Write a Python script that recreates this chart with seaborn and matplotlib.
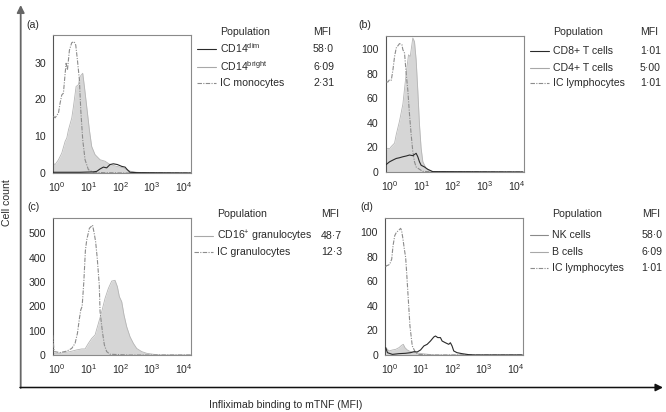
import seaborn as sns
import matplotlib.pyplot as plt
import matplotlib.ticker as ticker
from matplotlib.lines import Line2D
from matplotlib.patches import FancyArrowPatch

# ---- panel (a): monocytes ----
a_ic_x = [0.77, 0.87, 1.11, 1.25, 1.41, 1.59, 1.80, 1.93, 2.13, 2.46, 2.91, 3.45, 3.89, 4.40,
          5.08, 5.60, 6.47, 7.66, 9.76, 14.0, 29.0, 201, 16800]
a_ic_y = [15.4, 15.0, 16.3, 19.0, 21.2, 21.7, 27.0, 29.8, 28.0, 33.4, 35.4, 35.7, 34.8, 30.7,
          25.3, 17.2, 9.0, 3.6, 0.9, 0.2, 0.1, 0.0, 0.0]
a_bright_x = [0.73, 0.87, 1.11, 1.41, 1.80, 2.03, 2.29, 2.91, 3.29, 3.99, 4.73, 5.33, 6.47, 7.30,
              8.65, 10.5, 12.4, 15.8, 22.8, 32.7, 47.0, 76.3, 124, 201, 326, 857, 16800]
a_bright_y = [2.7, 2.3, 3.6, 5.4, 8.6, 9.5, 11.7, 14.9, 18.0, 23.5, 24.0, 26.2, 27.1, 23.5,
              18.0, 11.7, 7.2, 5.0, 3.6, 3.2, 2.3, 1.8, 1.4, 0.5, 0.2, 0.0, 0.0]
a_dim_x = [0.73, 5.33, 14.0, 17.9, 22.8, 29.0, 36.9, 47.0, 59.9, 80.1, 110, 140, 165, 201, 326, 16800]
a_dim_y = [0.2, 0.2, 0.3, 0.45, 1.1, 1.6, 1.4, 2.3, 2.5, 2.3, 1.8, 1.6, 0.9, 0.2, 0.1, 0.0]

# ---- panel (b): T cells ----
b_ic_x = [0.77, 0.87, 0.98, 1.11, 1.25, 1.41, 1.59, 2.02, 2.40, 2.58, 2.91, 3.28, 3.70, 4.17,
          4.71, 5.31, 6.00, 6.76, 8.61, 11.0, 28.8, 16000]
b_ic_y = [73.2, 73.2, 75.1, 74.6, 82.9, 93.9, 100.8, 104.4, 103.6, 99.4, 96.7, 80.1, 66.3, 47.0,
          30.4, 16.6, 8.3, 4.1, 2.2, 0.5, 0.0, 0.0]
b_cd4_x = [0.77, 0.87, 0.98, 1.11, 1.41, 1.59, 2.02, 2.58, 3.28, 3.88, 4.40, 4.71, 5.31, 6.00,
           6.76, 7.63, 8.61, 9.71, 11.0, 14.0, 20.0, 28.8, 16000]
b_cd4_y = [18.0, 19.3, 18.8, 20.7, 23.5, 30.4, 41.4, 55.2, 80.1, 95.3, 93.9, 99.4, 109, 106,
           91.2, 66.3, 38.7, 19.3, 8.3, 2.8, 0.6, 0.0, 0.0]
b_cd8_x = [0.77, 0.98, 1.25, 1.59, 2.02, 2.58, 3.28, 4.17, 5.31, 6.76, 7.63, 8.61, 9.71, 12.4,
           15.7, 22.6, 16000]
b_cd8_y = [6.1, 8.3, 9.7, 11.0, 11.6, 12.4, 13.0, 13.8, 13.3, 15.2, 12.4, 8.3, 5.5, 4.1,
           2.2, 0.3, 0.0]

# ---- panel (c): granulocytes ----
c_ic_x = [0.73, 0.81, 1.25, 2.03, 2.91, 3.71, 4.40, 5.08, 5.60, 6.20, 7.00, 7.85, 8.65, 10.5,
          13.2, 14.9, 16.5, 18.6, 21.5, 22.8, 27.0, 31.2, 36.9, 47.0, 201, 16800]
c_ic_y = [82, 14, 10, 16, 27, 48, 89, 150, 185, 200, 300, 430, 473, 521,
          534, 500, 466, 397, 288, 178, 96, 41, 14, 3, 0, 0]
c_cd16_x = [0.73, 1.25, 2.58, 4.19, 6.02, 7.66, 9.76, 12.4, 15.8, 20.2, 25.7, 32.7, 41.7, 53.1,
            67.6, 80.1, 92.5, 110, 130, 158, 201, 256, 326, 468, 673, 1090, 1770, 16800]
c_cd16_y = [7, 7, 14, 21, 25, 25, 48, 68, 82, 130, 178, 233, 274, 304,
            307, 281, 240, 219, 164, 116, 75, 48, 27, 14, 7, 3, 0, 0]

# ---- panel (d): NK and B cells ----
d_ic_x = [0.77, 0.81, 0.93, 1.03, 1.19, 1.31, 1.48, 1.67, 1.93, 2.28, 2.45, 2.70, 2.98, 3.28,
          3.53, 3.98, 4.49, 5.31, 6.76, 8.61, 17.8, 16000]
d_ic_y = [72.0, 72.8, 73.3, 74.1, 78.2, 89.1, 97.3, 100, 101.4, 103.3, 101.4, 94.6, 86.4, 79.6,
          67.3, 45.5, 23.7, 7.4, 1.9, 0.5, 0.0, 0.0]
d_b_x = [0.77, 0.98, 1.25, 1.59, 2.02, 2.45, 2.77, 3.12, 3.70, 4.71, 6.76, 11.0, 17.8, 28.8, 16000]
d_b_y = [6.0, 3.3, 4.1, 4.6, 6.0, 7.9, 8.7, 6.0, 4.1, 2.7, 1.9, 1.1, 0.5, 0.0, 0.0]
d_nk_x = [0.77, 0.87, 1.25, 2.02, 3.28, 4.71, 6.00, 7.63, 9.71, 12.4, 15.7, 20.0, 25.5, 28.8,
          34.1, 41.3, 46.7, 59.4, 75.6, 85.3, 96.2, 109, 138, 198, 322, 521, 16000]
d_nk_y = [6.0, 1.9, 0.5, 1.1, 1.4, 1.9, 2.7, 2.5, 4.1, 7.4, 8.7, 11.4, 14.7, 15.5,
          14.2, 14.2, 11.4, 10.0, 8.7, 10.0, 7.4, 3.3, 1.9, 1.1, 0.3, 0.0, 0.0]

# legend tables
a_names = ["CD14$^{\\mathrm{dim}}$", "CD14$^{\\mathrm{bright}}$", "IC monocytes"]
a_mfi = ["58·0", "6·09", "2·31"]
b_names = ["CD8+ T cells", "CD4+ T cells", "IC lymphocytes"]
b_mfi = ["1·01", "5·00", "1·01"]
c_names = ["CD16$^{+}$ granulocytes", "IC granulocytes"]
c_mfi = ["48·7", "12·3"]
d_names = ["NK cells", "B cells", "IC lymphocytes"]
d_mfi = ["58·0", "6·09", "1·01"]

sns.set_style("white")
plt.rcParams["font.family"] = ["Liberation Sans", "DejaVu Sans"]
plt.rcParams["mathtext.fontset"] = "custom"
plt.rcParams["mathtext.rm"] = "Liberation Sans"
plt.rcParams["mathtext.it"] = "Liberation Sans:italic"

W, H = 666, 412
FS = 7.6
DARK = "#2a2a2a"
FILL = "#d6d6d6"
FILL_EDGE = "#b5b5b5"
DASH = "#8c8c8c"
DASHSTYLE = (0, (4, 1.2, 1, 1.2))

fig = plt.figure(figsize=(W / 100, H / 100), dpi=100)


def px_axes(left, top, right, bottom):
    return fig.add_axes([left / W, 1 - bottom / H, (right - left) / W, (bottom - top) / H])


def style_axes(ax, ylim, ystep):
    ax.set_xscale("log")
    ax.set_xlim(0.73, 16500)
    ax.set_ylim(*ylim)
    ax.xaxis.set_major_locator(ticker.FixedLocator([1, 10, 100, 1000, 10000]))
    ax.xaxis.set_major_formatter(ticker.LogFormatterMathtext())
    ax.xaxis.set_minor_locator(ticker.LogLocator(subs=range(2, 10)))
    ax.yaxis.set_major_locator(ticker.MultipleLocator(ystep))
    ax.yaxis.set_minor_locator(ticker.AutoMinorLocator(8))
    ax.tick_params(which="major", direction="in", length=2.5, width=0.6, color="#333",
                   labelsize=FS, labelcolor=DARK, pad=5)
    ax.tick_params(which="minor", direction="in", length=1.6, width=0.5, color="#333")
    ax.tick_params(axis="y", which="both", right=False)
    ax.tick_params(axis="x", which="both", top=False)
    for s in ax.spines.values():
        s.set_color("#8a8a8a")
        s.set_linewidth(0.8)
    ax.spines["left"].set_color("#555")
    ax.set_xlabel("")
    ax.set_ylabel("")


def filled(ax, x, y):
    ax.fill_between(x, y, 0, color=FILL, lw=0, zorder=1)
    sns.lineplot(x=x, y=y, ax=ax, color=FILL_EDGE, lw=0.6, estimator=None, sort=False, zorder=2)


def ic_line(ax, x, y):
    sns.lineplot(x=x, y=y, ax=ax, color=DASH, lw=0.8, linestyle=DASHSTYLE,
                 estimator=None, sort=False, zorder=3)


def dark_line(ax, x, y):
    sns.lineplot(x=x, y=y, ax=ax, color=DARK, lw=0.8, estimator=None, sort=False, zorder=4)


def legend_table(x_line, x_text, x_mfi, y_head, rows, names, mfis, styles):
    fig.text(x_text / W, 1 - y_head / H, "Population", fontsize=FS, color=DARK, va="center")
    fig.text(x_mfi / W, 1 - y_head / H, "MFI", fontsize=FS, color=DARK, va="center")
    for yy, name, val, (col, ls) in zip(rows, names, mfis, styles):
        fig.add_artist(Line2D([x_line / W, (x_text - 3.5) / W], [1 - yy / H, 1 - yy / H],
                              color=col, lw=0.8, linestyle=ls))
        fig.text(x_text / W, 1 - yy / H, name, fontsize=FS, color=DARK, va="center")
        fig.text(x_mfi / W, 1 - yy / H, val, fontsize=FS, color=DARK, va="center")


# panel (a)
ax_a = px_axes(52.7, 35, 190.7, 173)
filled(ax_a, a_bright_x, a_bright_y)
ic_line(ax_a, a_ic_x, a_ic_y)
dark_line(ax_a, a_dim_x, a_dim_y)
style_axes(ax_a, (0, 37.5), 10)

# panel (b)
ax_b = px_axes(385.5, 35.5, 523.5, 172)
filled(ax_b, b_cd4_x, b_cd4_y)
ic_line(ax_b, b_ic_x, b_ic_y)
dark_line(ax_b, b_cd8_x, b_cd8_y)
style_axes(ax_b, (0, 111), 20)

# panel (c)
ax_c = px_axes(52.7, 218.3, 190.7, 355)
filled(ax_c, c_cd16_x, c_cd16_y)
ic_line(ax_c, c_ic_x, c_ic_y)
style_axes(ax_c, (0, 562), 100)

# panel (d)
ax_d = px_axes(385, 218.3, 522.7, 355)
filled(ax_d, d_b_x, d_b_y)
ic_line(ax_d, d_ic_x, d_ic_y)
dark_line(ax_d, d_nk_x, d_nk_y)
style_axes(ax_d, (0, 111.5), 20)

solid_dark = (DARK, "-")
solid_light = ("#a8a8a8", "-")
dashed = (DASH, DASHSTYLE)
legend_table(197, 220, 313, 31.7, [48.5, 66.5, 83.3], a_names, a_mfi,
             [solid_dark, solid_light, dashed])
legend_table(530, 552.7, 640, 32, [50.7, 68.0, 83.3], b_names, b_mfi,
             [solid_dark, solid_light, dashed])
legend_table(194, 216.7, 321, 214, [236, 251.7], c_names, c_mfi,
             [solid_light, dashed])
legend_table(530, 551.7, 641.7, 213.5, [235, 251.7, 268.3], d_names, d_mfi,
             [("#8a8a8a", "-"), solid_light, dashed])

# panel letters
for lab, xx, yy in [("(a)", 26, 25), ("(b)", 358, 25), ("(c)", 27, 207), ("(d)", 360, 207)]:
    fig.text(xx / W, 1 - yy / H, lab, fontsize=FS, color=DARK, va="center")

# outer axes arrows
fig.add_artist(FancyArrowPatch((20.7 / W, 1 - 388 / H), (20.7 / W, 1 - 5 / H),
                               transform=fig.transFigure, arrowstyle="-|>", mutation_scale=11,
                               color="#666", lw=1.3, shrinkA=0, shrinkB=0))
fig.add_artist(FancyArrowPatch((20 / W, 1 - 387.5 / H), (663 / W, 1 - 387.5 / H),
                               transform=fig.transFigure, arrowstyle="-|>", mutation_scale=11,
                               color="#111", lw=1.1, shrinkA=0, shrinkB=0))
fig.text(7.5 / W, 1 - 203 / H, "Cell count", fontsize=FS, color=DARK, rotation=90,
         ha="center", va="center")
fig.text(286 / W, 1 - 404.5 / H, "Infliximab binding to mTNF (MFI)", fontsize=FS,
         color=DARK, ha="center", va="center")

fig.savefig("out.png", dpi=100)
